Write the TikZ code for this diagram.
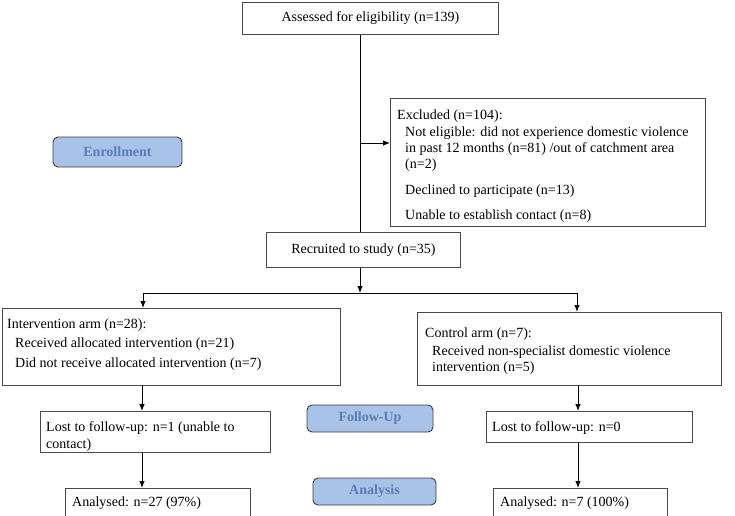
\documentclass[tikz,border=0pt]{standalone}
\usepackage{fontspec}
\setmainfont{Liberation Serif}
\usetikzlibrary{arrows.meta,calc}
\definecolor{phasefill}{HTML}{A9C3E8}
\definecolor{phasetext}{HTML}{5A7DB7}
\definecolor{phaseline}{HTML}{3C3C3C}
\definecolor{boxline}{HTML}{4A4A4A}
\begin{document}
\begin{tikzpicture}[x=1pt,y=-1pt,
  font=\fontsize{14}{17}\selectfont,
  box/.style={draw=boxline, line width=0.9pt, rectangle, inner sep=0pt, anchor=north west},
  phase/.style={draw=phaseline, fill=phasefill, line width=0.9pt, rounded corners=5pt,
    rectangle, inner sep=0pt, text=phasetext, font=\fontsize{14}{17}\selectfont\bfseries},
  txt/.style={anchor=base west, inner sep=0pt},
  ctxt/.style={inner sep=0pt},
  line/.style={line width=0.9pt, draw=black},
  arr/.style={line, -{Latex[length=7pt,width=5.5pt]}}]
\clip (0,0) rectangle (735,515);
\fill[white] (0,0) rectangle (735,515);

% boxes
\node[box, minimum width=256pt, minimum height=32pt] (assess) at (242,2) {};
\node[ctxt] (assessT) at (assess.center) {Assessed for eligibility (n=139)};

\node[box, minimum width=315pt, minimum height=128pt] (excl) at (390,98) {};
\node[txt] (ex1) at (397,119) {Excluded (n=104):};
\node[txt] (ex2) at (405,136) {Not eligible: did not experience domestic violence};
\node[txt] (ex3) at (405,152) {in past 12 months (n=81) /out of catchment area};
\node[txt] (ex4) at (405,168) {(n=2)};
\node[txt] (ex5) at (405,194) {Declined to participate (n=13)};
\node[txt] (ex6) at (405,219) {Unable to establish contact (n=8)};

\node[box, minimum width=194pt, minimum height=35pt] (recr) at (266,232) {};
\node[ctxt] (recrT) at (recr.center) {Recruited to study (n=35)};

\node[box, minimum width=338pt, minimum height=77pt] (interv) at (2,308) {};
\node[txt] (in1) at (7,328) {Intervention arm (n=28):};
\node[txt] (in2) at (15,347) {Received allocated intervention (n=21)};
\node[txt] (in3) at (15,367) {Did not receive allocated intervention (n=7)};

\node[box, minimum width=304pt, minimum height=73pt] (ctrl) at (417,312) {};
\node[txt] (ct1) at (425,337) {Control arm (n=7):};
\node[txt] (ct2) at (432,355) {Received non-specialist domestic violence};
\node[txt] (ct3) at (432,371) {intervention (n=5)};

\node[box, minimum width=230pt, minimum height=41pt] (lostL) at (40,411) {};
\node[txt] (lL1) at (46,431) {Lost to follow-up: n=1 (unable to};
\node[txt] (lL2) at (46,448) {contact)};

\node[box, minimum width=206pt, minimum height=31pt] (lostR) at (486,411) {};
\node[txt] (lR1) at (492,431) {Lost to follow-up: n=0};

\node[box, minimum width=185pt, minimum height=40pt] (anL) at (65,488) {};
\node[txt] (aL1) at (72,506) {Analysed: n=27 (97\%)};

\node[box, minimum width=174pt, minimum height=40pt] (anR) at (493,488) {};
\node[txt] (aR1) at (500,506) {Analysed: n=7 (100\%)};

% phase labels
\node[phase, minimum width=129pt, minimum height=30pt] (enroll) at (117.5,152) {Enrollment};
\node[phase, minimum width=126pt, minimum height=27pt] (follow) at (370,418.5) {Follow-Up};
\node[phase, minimum width=123pt, minimum height=27pt] (analysis) at (374.5,491.5) {Analysis};

% connector coordinates
\coordinate (spine) at (360,0);
\coordinate (exin) at (390,143);
\coordinate (split) at (360,293);
\coordinate (splitL) at (143,293);
\coordinate (splitR) at (577,293);
\coordinate (colL) at (142,0);
\coordinate (colR) at (578,0);

% connectors
\draw[line] (assess.south -| spine) -- (recr.north -| spine);
\draw[arr] (spine |- exin) -- (exin);
\draw[arr] (recr.south -| spine) -- (split);
\draw[line] (splitL) -- (splitR);
\draw[arr] (splitL) -- (interv.north -| splitL);
\draw[arr] (splitR) -- (ctrl.north -| splitR);
\draw[arr] (interv.south -| colL) -- (lostL.north -| colL);
\draw[arr] (lostL.south -| colL) -- (anL.north -| colL);
\draw[arr] (ctrl.south -| colR) -- (lostR.north -| colR);
\draw[arr] (lostR.south -| colR) -- (anR.north -| colR);
\end{tikzpicture}
\end{document}
